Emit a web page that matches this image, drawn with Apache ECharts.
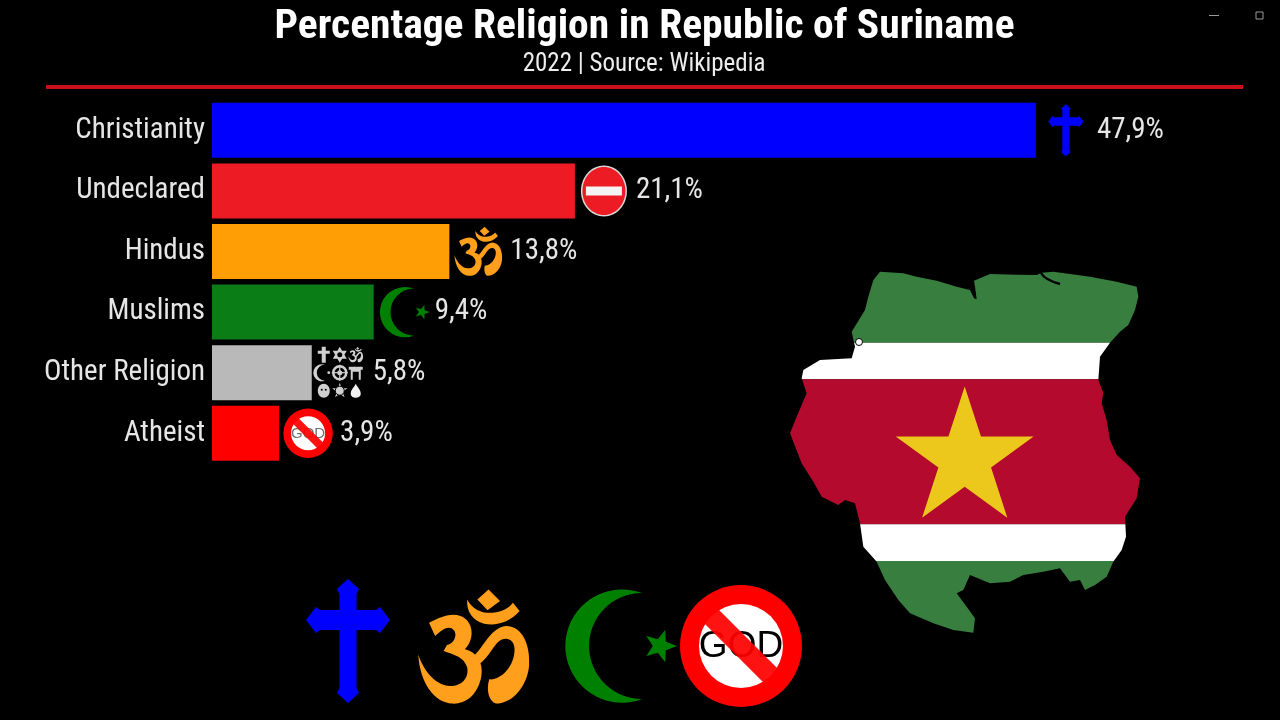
<!DOCTYPE html>
<html><head><meta charset="utf-8">
<style>html,body{margin:0;padding:0;background:#000}#c{width:1280px;height:720px}</style>
<script src="https://cdn.jsdelivr.net/npm/echarts@6/dist/echarts.min.js"></script>
</head><body><div id="c"></div>
<script>
const titleText = 'Percentage Religion in Republic of Suriname';
const subtitleText = '2022 | Source: Wikipedia';
const categories = ['Christianity','Undeclared','Hindus','Muslims','Other Religion','Atheist'];
const values = [47.9,21.1,13.8,9.4,5.8,3.9];
const barColors = ['#0000FF','#ED1C24','#FF9F05','#0A7D16','#B9B9B9','#FF0000'];
const iconNames = ['cross','noentry','om','crescent','others','nogod'];
const FONT = '"Roboto Condensed","Roboto",sans-serif';
const chart = echarts.init(document.getElementById('c'), null, {renderer:'canvas'});

function starPath(cx,cy,R,rot,ratio){
  let d='';
  for(let i=0;i<10;i++){
    const r=i%2?R*(ratio||0.382):R, a=rot+i*Math.PI/5;
    d+=(i?'L':'M')+(cx+r*Math.cos(a)).toFixed(2)+','+(cy+r*Math.sin(a)).toFixed(2);
  }
  return d+'Z';
}
const CROSS='M0,-62L11,-52L8.5,-47L8.5,-31L28,-31L32,-34L42,-21L32,-8L28,-11L8.5,-11L8.5,47L11,52L0,62L-11,52L-8.5,47L-8.5,-11L-28,-11L-32,-8L-42,-21L-32,-34L-28,-31L-8.5,-31L-8.5,-47L-11,-52Z';
const OM=[
 'M588,55L622,90L585,118L555,85Z',
 'M525,85C540,115 570,128 600,125C630,122 650,110 660,95L680,120C650,155 610,165 575,158C540,148 522,120 525,85Z',
 'M412,155C450,135 480,125 505,135C545,150 548,205 518,235C560,245 575,285 565,325C552,375 520,400 480,398C430,395 385,340 380,250C390,285 425,345 475,345C510,345 530,320 525,290C515,255 480,250 455,240L465,222C495,215 500,172 470,170C460,170 445,180 430,195Z',
 'M535,262C570,240 590,170 640,165C690,165 712,225 708,285C702,345 660,398 610,398C590,392 580,360 590,325C620,330 665,290 665,235C665,205 640,195 620,210C600,225 585,270 545,290Z'
].join('');
const CRESC='M60,-159A170,170 0 1 0 60,159A159,159 0 0 1 60,-159Z';
const TORII='M-7,-6L7,-6L7,-3L5,-3L5,7L3,7L3,-1L-3,-1L-3,7L-5,7L-5,-3L-7,-3Z';
const FLAME='M0,-7C2,-3 5,-1 5,3C5,6 2,7 0,7C-2,7 -5,6 -5,3C-5,-1 -2,-3 0,-7Z';

function noGod(textFill){
  return [
    {type:'circle',shape:{cx:0,cy:0,r:61},style:{fill:'#FF0000'}},
    {type:'circle',shape:{cx:0,cy:0,r:42},style:{fill:'#FFFFFF'}},
    {type:'text',style:{text:'GOD',x:0,y:1,fill:textFill,fontSize:37,fontFamily:'"Liberation Sans"',align:'center',verticalAlign:'middle'}},
    {type:'line',shape:{x1:-31,y1:-31,x2:31,y2:31},style:{stroke:'rgba(255,0,0,0.93)',lineWidth:20}}
  ];
}
function wrap(x,y,s,children,sy){return {type:'group',x:x,y:y,scaleX:s,scaleY:sy||s,children:children};}
function iconChildren(name){
  switch(name){
    case 'cross': return [{type:'path',shape:{pathData:CROSS},style:{fill:'#0000FF'}}];
    case 'om': return [wrap(0,0,0.338,[{type:'path',x:-545,y:-228,shape:{pathData:OM},style:{fill:'#FF9F1C'}}],0.333)];
    case 'crescent': return [
      wrap(1,0,0.333,[{type:'path',shape:{pathData:CRESC},style:{fill:'#008000'}}]),
      {type:'path',shape:{pathData:starPath(39,0,17,0,0.42)},style:{fill:'#008000'}}
    ];
    case 'nogod': return noGod('#000000');
  }
  return [];
}
function othersIcon(){
  const c='#D0D0D0', g=(x,y,ch)=>({type:'group',x:x,y:y,children:ch});
  return [
    g(-16,-18,[{type:'path',shape:{pathData:'M-2,-8L2,-8L2,-4L6,-4L6,-1L2,-1L2,8L-2,8L-2,-1L-6,-1L-6,-4L-2,-4Z'},style:{fill:c}}]),
    g(0,-18,[{type:'path',shape:{pathData:'M0,-8L7,4L-7,4ZM0,8L-7,-4L7,-4Z'},style:{fill:c}},{type:'circle',shape:{cx:0,cy:0,r:2.5},style:{fill:'#000'}}]),
    g(16,-18,[wrap(0,0,0.045,[{type:'path',x:-545,y:-228,shape:{pathData:OM},style:{fill:c}}])]),
    g(-16,0,[wrap(-2,0,0.05,[{type:'path',shape:{pathData:CRESC},style:{fill:c}}]),{type:'circle',shape:{cx:5,cy:0,r:1.4},style:{fill:c}}]),
    g(0,0,[{type:'circle',shape:{cx:0,cy:0,r:6.5},style:{fill:'none',stroke:c,lineWidth:2.5}},{type:'circle',shape:{cx:0,cy:0,r:2.5},style:{fill:c}},
      {type:'line',shape:{x1:-8,y1:0,x2:8,y2:0},style:{stroke:c,lineWidth:1.2}},{type:'line',shape:{x1:0,y1:-8,x2:0,y2:8},style:{stroke:c,lineWidth:1.2}}]),
    g(16,0,[{type:'path',shape:{pathData:TORII},style:{fill:c}}]),
    g(-16,18,[{type:'ellipse',shape:{cx:0,cy:0,rx:6,ry:7},style:{fill:c}},{type:'circle',shape:{cx:-2,cy:-1,r:1},style:{fill:'#000'}},{type:'circle',shape:{cx:2,cy:-1,r:1},style:{fill:'#000'}}]),
    g(0,18,[{type:'path',shape:{pathData:starPath(0,0,8,-Math.PI/2)},style:{fill:c}},{type:'circle',shape:{cx:0,cy:0,r:4.5},style:{fill:c,stroke:'#000',lineWidth:1}}]),
    g(16,18,[{type:'path',shape:{pathData:FLAME},style:{fill:'#F2F2F2'}}])
  ];
}
const iconAt={cross:{dx:30,s:0.42},noentry:{dx:29},om:{dx:29,s:0.43},crescent:{dx:31,s:0.445},others:{dx:28},nogod:{dx:29,s:0.405}};
function smallIcon(name){
  if(name==='noentry') return [
    {type:'ellipse',shape:{cx:0,cy:0,rx:23,ry:25.5},style:{fill:'#D9D9D9'}},
    {type:'ellipse',shape:{cx:0,cy:0,rx:21.5,ry:24},style:{fill:'#ED1C24'}},
    {type:'rect',shape:{x:-18,y:-4.5,width:36,height:9},style:{fill:'#F4F4F4'}}];
  if(name==='others') return othersIcon();
  const s=iconAt[name].s;
  return [wrap(0,0,s,name==='nogod'?noGod('#707070'):iconChildren(name))];
}

const outlineZ=[[330,35],[400,40],[440,50],[500,62],[560,80],[600,90],[612,115],[620,118],[615,80],[612,62],[660,42],[740,44],[800,45],[815,38],[850,35],[900,42],[960,50],[1040,65],[1100,80],[1105,110],[1095,150],[1075,195],[1050,215],[1020,248],[990,290],[985,360],[1000,400],[995,430],[1010,480],[1020,540],[1040,585],[1080,620],[1110,655],[1100,715],[1065,770],[1068,830],[1055,870],[1030,905],[1010,950],[975,975],[945,990],[930,960],[900,965],[870,925],[820,935],[760,945],[720,965],[660,970],[600,945],[580,990],[560,1000],[590,1040],[615,1075],[610,1118],[550,1110],[490,1090],[420,1060],[385,1020],[345,960],[320,905],[280,860],[270,790],[255,730],[225,720],[205,735],[155,710],[130,665],[95,610],[60,520],[80,470],[110,400],[95,355],[100,330],[150,300],[245,295],[255,260],[245,215],[285,150],[295,110],[310,60]];
const mapPts=outlineZ.map(p=>[p[0]/3+770,p[1]/3+260]);
function clipBand(poly,y0,y1){
  const cut=(pts,keep,yc)=>{const out=[];for(let i=0;i<pts.length;i++){const a=pts[i],b=pts[(i+1)%pts.length],ka=keep(a),kb=keep(b);
    if(ka)out.push(a);
    if(ka!==kb){const t=(yc-a[1])/(b[1]-a[1]);out.push([a[0]+t*(b[0]-a[0]),yc]);}}return out;};
  return cut(cut(poly,p=>p[1]>=y0,y0),p=>p[1]<=y1,y1);
}
const Y=v=>v/3+260;
const bands=[[0,248,'#377E3F'],[248,358,'#FFFFFF'],[358,793,'#B40A2D'],[793,903,'#FFFFFF'],[903,1200,'#377E3F']];
const mapEls=bands.map(b=>({type:'polygon',shape:{points:clipBand(mapPts,Y(b[0]),Y(b[1]))},style:{fill:b[2]}}));
mapEls.push({type:'path',shape:{pathData:starPath(964.7,459,72.5,-Math.PI/2)},style:{fill:'#ECC81D'}});
mapEls.push({type:'path',shape:{pathData:'M1041,273Q1045,280 1060,284'},style:{fill:'none',stroke:'#000',lineWidth:2.5}});
mapEls.push({type:'circle',shape:{cx:859,cy:342,r:3.5},style:{fill:'#fff',stroke:'#000',lineWidth:1}});

const decorEls=[
  {type:'group',children:mapEls},
  {type:'group',x:348,y:641,children:iconChildren('cross')},
  {type:'group',x:474,y:647,children:iconChildren('om')},
  {type:'group',x:621,y:646,children:iconChildren('crescent')},
  {type:'group',x:741,y:646,children:iconChildren('nogod')}
];

const option={
  backgroundColor:'#000',
  animation:false,
  title:[
    {text:titleText,left:639.5,top:2,textAlign:'center',textStyle:{color:'#fff',fontFamily:FONT,fontWeight:'bold',fontSize:41.5}},
    {text:subtitleText,left:639,top:47,textAlign:'center',textStyle:{color:'#EDEDED',fontFamily:FONT,fontWeight:'normal',fontSize:25}}
  ],
  grid:{left:212,top:100,width:1032,height:363.6},
  xAxis:{type:'value',min:0,max:60,show:false},
  yAxis:{type:'category',inverse:true,data:categories,axisLine:{show:false},axisTick:{show:false},
    axisLabel:{color:'#E6E6E6',fontFamily:FONT,fontSize:29,margin:7}},
  series:[
    {type:'bar',barWidth:55,data:values.map((v,i)=>({value:v,itemStyle:{color:barColors[i]}})),
     label:{show:true,position:'right',distance:61,color:'#E6E6E6',fontFamily:FONT,fontSize:29,
       formatter:p=>String(p.value).replace('.',',')+'%'}},
    {type:'custom',coordinateSystem:'cartesian2d',clip:false,silent:true,z:5,
     encode:{x:0,y:1},data:values.map((v,i)=>[v,i]),
     renderItem:(params,api)=>{
       const name=iconNames[params.dataIndex];
       const pt=api.coord([api.value(0),api.value(1)]);
       return {type:'group',x:pt[0]+iconAt[name].dx,y:pt[1],children:smallIcon(name)};
     }},
    {type:'custom',coordinateSystem:'none',silent:true,z:1,data:[0],
     renderItem:()=>({type:'group',children:decorEls})}
  ],
  graphic:{elements:[
    {type:'rect',shape:{x:46,y:85,width:1197,height:4},style:{fill:'#C8101A'},silent:true},
    {type:'rect',shape:{x:1209,y:15,width:10,height:1},style:{fill:'#9A9A9A'},silent:true},
    {type:'rect',shape:{x:1256,y:12,width:7,height:7},style:{fill:'none',stroke:'#9A9A9A',lineWidth:1},silent:true}
  ]}
};
chart.setOption(option);
</script></body></html>
